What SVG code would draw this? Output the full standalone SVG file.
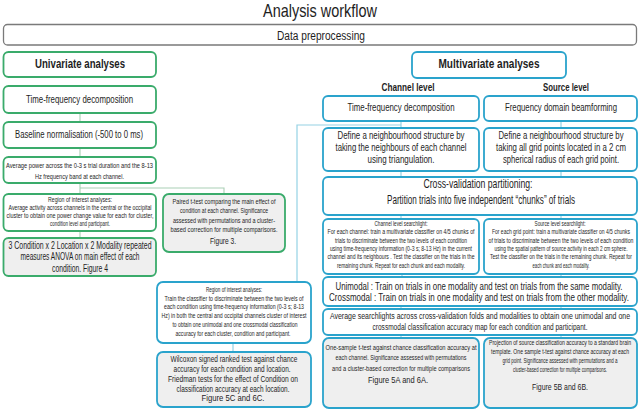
<svg xmlns="http://www.w3.org/2000/svg" width="640" height="412" viewBox="0 0 640 412">
<style>
text{font-family:"Liberation Sans",Arial,sans-serif;fill:#1e1e1e;text-anchor:middle}
.b{font-weight:bold}
.g{fill:#fff;stroke:#3aab6b;stroke-width:1.8}
.gg{fill:#efefef;stroke:#3aab6b;stroke-width:1.8}
.u{fill:#fff;stroke:#2aa3cc;stroke-width:1.8}
.ug{fill:#efefef;stroke:#2aa3cc;stroke-width:1.8}
.cg{stroke:#a9cfb5;stroke-width:1.1;fill:none}
.cb{stroke:#95d2e4;stroke-width:1.2;fill:none}
</style>
<rect width="640" height="412" fill="#fff"/>
<text x="320" y="17" font-size="19" textLength="114" lengthAdjust="spacingAndGlyphs">Analysis workflow</text>
<g id="preprocessing">
<rect x="3.5" y="24.5" width="633" height="20.5" rx="4" fill="#fff" stroke="#7a7a7a" stroke-width="1.3"/>
<text x="321" y="39.5" font-size="12.5" textLength="88" lengthAdjust="spacingAndGlyphs">Data preprocessing</text>
</g>
<g id="connectors">
<path class="cg" d="M80 113V122M80 148V157M80 183V194M80 188H224V194M80 231V238"/>
<path class="cb" d="M401 121V128M561 121V128M401 125H297V282M401 171V177M561 171V177M401 215V219M561 215V219M402 274V277M561 274V277M401 306V309M561 306V309M401 335V338M561 335V338M233 343V352"/>
</g>
<g id="univariate">
<rect class="g" x="3.5" y="52" width="152.5" height="25" rx="5"/>
<g transform="translate(80 0) scale(.7 1)">
<text class="b" x="0" y="68.5" font-size="12" textLength="128.6" lengthAdjust="spacingAndGlyphs">Univariate analyses</text>
</g>
</g>
<g id="uni-tf">
<rect class="g" x="3.5" y="86" width="152.5" height="27" rx="5"/>
<g transform="translate(79.5 0) scale(.7 1)">
<text x="0" y="103" font-size="10" textLength="152.9" lengthAdjust="spacingAndGlyphs">Time-frequency decomposition</text>
</g>
</g>
<g id="baseline">
<rect class="g" x="3.5" y="122" width="152.5" height="26" rx="5"/>
<g transform="translate(79 0) scale(.7 1)">
<text x="0" y="138.5" font-size="10.5" textLength="182.9" lengthAdjust="spacingAndGlyphs">Baseline normalisation (-500 to 0 ms)</text>
</g>
</g>
<g id="avg-power">
<rect class="g" x="3.5" y="157" width="152.5" height="26" rx="5"/>
<g transform="translate(79.5 0) scale(.7 1)">
<text x="0" y="168.5" font-size="8" textLength="210" lengthAdjust="spacingAndGlyphs">Average power across the 0-3 s trial duration and the 8-13</text>
<text x="0" y="179.5" font-size="8" textLength="127.1" lengthAdjust="spacingAndGlyphs">Hz frequency band at each channel.</text>
</g>
</g>
<g id="uni-roi">
<rect class="g" x="3.5" y="194" width="152.5" height="37" rx="5"/>
<g transform="translate(80 0) scale(.7 1)" font-size="6.6">
<text x="0" y="202" textLength="91.4" lengthAdjust="spacingAndGlyphs">Region of interest analyses:</text>
<text x="0" y="210" textLength="204.3" lengthAdjust="spacingAndGlyphs">Average activity across channels in the central or the occipital</text>
<text x="0" y="218" textLength="210" lengthAdjust="spacingAndGlyphs">cluster to obtain one power change value for each for cluster,</text>
<text x="0" y="226" textLength="85.7" lengthAdjust="spacingAndGlyphs">condition level and participant.</text>
</g>
</g>
<g id="anova">
<rect class="gg" x="3.5" y="238" width="152.5" height="38" rx="5"/>
<g transform="translate(80 0) scale(.7 1)" font-size="10.2">
<text x="0" y="249" textLength="204.3" lengthAdjust="spacingAndGlyphs">3 Condition x 2 Location x 2 Modality repeated</text>
<text x="0" y="260.5" textLength="170" lengthAdjust="spacingAndGlyphs">measures ANOVA on main effect of each</text>
<text x="0" y="272" textLength="80" lengthAdjust="spacingAndGlyphs">condition. Figure 4</text>
</g>
</g>
<g id="paired">
<rect class="gg" x="163" y="194" width="122" height="58" rx="6"/>
<g transform="translate(224 0) scale(.7 1)" font-size="7">
<text x="0" y="204" textLength="147.1" lengthAdjust="spacingAndGlyphs">Paired t-test comparing the main effect of</text>
<text x="0" y="213.5" textLength="125.7" lengthAdjust="spacingAndGlyphs">condition at each channel.  Significance</text>
<text x="0" y="223" textLength="145.7" lengthAdjust="spacingAndGlyphs">assessed with permutations and a cluster-</text>
<text x="0" y="232.5" textLength="152.9" lengthAdjust="spacingAndGlyphs">based correction for multiple comparisons.</text>
<text x="-1.4" y="244.5" font-size="8.6" textLength="37.1" lengthAdjust="spacingAndGlyphs">Figure 3.</text>
</g>
</g>
<g id="multivariate">
<rect class="u" x="412" y="52" width="154" height="26" rx="5"/>
<g transform="translate(489 0) scale(.7 1)">
<text class="b" x="0" y="68.5" font-size="12" textLength="144.3" lengthAdjust="spacingAndGlyphs">Multivariate analyses</text>
</g>
</g>
<g id="channel-level-label" transform="translate(408 0) scale(.7 1)">
<text class="b" x="0" y="91" font-size="10.5" textLength="75.7" lengthAdjust="spacingAndGlyphs">Channel level</text>
</g>
<g id="source-level-label" transform="translate(566 0) scale(.7 1)">
<text class="b" x="0" y="91" font-size="10.5" textLength="65.7" lengthAdjust="spacingAndGlyphs">Source level</text>
</g>
<g id="ch-tf">
<rect class="u" x="323" y="96" width="156" height="25" rx="5"/>
<g transform="translate(401 0) scale(.7 1)">
<text x="0" y="111.5" font-size="10" textLength="152.9" lengthAdjust="spacingAndGlyphs">Time-frequency decomposition</text>
</g>
</g>
<g id="src-beam">
<rect class="u" x="484" y="96" width="153" height="25" rx="5"/>
<g transform="translate(561 0) scale(.7 1)">
<text x="0" y="111.5" font-size="10" textLength="160" lengthAdjust="spacingAndGlyphs">Frequency domain beamforming</text>
</g>
</g>
<g id="ch-neigh">
<rect class="u" x="323" y="128" width="156" height="43" rx="5"/>
<g transform="translate(401 0) scale(.7 1)" font-size="10.5">
<text x="0" y="139" textLength="181.4" lengthAdjust="spacingAndGlyphs">Define a neighbourhood structure by</text>
<text x="0" y="151" textLength="187.1" lengthAdjust="spacingAndGlyphs">taking the neighbours of each channel</text>
<text x="0" y="163" textLength="95.7" lengthAdjust="spacingAndGlyphs">using triangulation.</text>
</g>
</g>
<g id="src-neigh">
<rect class="u" x="484" y="128" width="153" height="43" rx="5"/>
<g transform="translate(561 0) scale(.7 1)" font-size="10.5">
<text x="0" y="139" textLength="178.6" lengthAdjust="spacingAndGlyphs">Define a neighbourhood structure by</text>
<text x="0" y="151" textLength="185.7" lengthAdjust="spacingAndGlyphs">taking all grid points located in a 2 cm</text>
<text x="0" y="163" textLength="165.7" lengthAdjust="spacingAndGlyphs">spherical radius of each grid point.</text>
</g>
</g>
<g id="cross-val">
<rect class="u" x="323" y="177" width="314" height="38" rx="5"/>
<g transform="translate(480 0) scale(.7 1)" font-size="12">
<text x="-2.9" y="188.5" textLength="155.7" lengthAdjust="spacingAndGlyphs">Cross-validation partitioning:</text>
<text x="1.4" y="204.5" textLength="268.6" lengthAdjust="spacingAndGlyphs">Partition trials into five independent  “chunks” of trials</text>
</g>
</g>
<g id="ch-search">
<rect class="u" x="323" y="219" width="156" height="55" rx="5"/>
<g transform="translate(401 0) scale(.7 1)" font-size="7">
<text x="0" y="226.5" textLength="75.7" lengthAdjust="spacingAndGlyphs">Channel level searchlight:</text>
<text x="0" y="234.5" textLength="210" lengthAdjust="spacingAndGlyphs">For each channel: train a multivariate classifier on 4/5 chunks  of</text>
<text x="0" y="242.8" textLength="188.6" lengthAdjust="spacingAndGlyphs">trials to discriminate between the two levels of each condition</text>
<text x="0" y="251.1" textLength="202.9" lengthAdjust="spacingAndGlyphs">using time-frequency information (0-3 s; 8-13 Hz) in the current</text>
<text x="0" y="259.4" textLength="210" lengthAdjust="spacingAndGlyphs">channel and its neighbours .  Test the classifier on the trials in the</text>
<text x="0" y="267.7" textLength="182.9" lengthAdjust="spacingAndGlyphs">remaining chunk. Repeat for each chunk and each modality.</text>
</g>
</g>
<g id="src-search">
<rect class="u" x="484" y="219" width="153" height="55" rx="5"/>
<g transform="translate(561 0) scale(.7 1)" font-size="7">
<text x="-1.4" y="226.5" textLength="72.9" lengthAdjust="spacingAndGlyphs">Source level searchlight:</text>
<text x="0" y="234.5" textLength="197.1" lengthAdjust="spacingAndGlyphs">For each grid point: train a multivariate classifier  on 4/5 chunks</text>
<text x="0" y="242.8" textLength="207.1" lengthAdjust="spacingAndGlyphs">of trials to discriminate between the two levels of each condition</text>
<text x="0" y="251.1" textLength="190" lengthAdjust="spacingAndGlyphs">using the spatial pattern of source activity in each 2 cm sphere.</text>
<text x="0" y="259.4" textLength="202.9" lengthAdjust="spacingAndGlyphs">Test the classifier on the trials in the remaining chunk.  Repeat for</text>
<text x="0" y="267.7" textLength="81.4" lengthAdjust="spacingAndGlyphs">each chunk and each modality.</text>
</g>
</g>
<g id="modality">
<rect class="u" x="323" y="277" width="314" height="29" rx="5"/>
<g transform="translate(479 0) scale(.7 1)" font-size="10.2">
<text x="0" y="290" textLength="410" lengthAdjust="spacingAndGlyphs">Unimodal : Train on trials in one modality and test on trials from the same modality.</text>
<text x="0" y="301.5" textLength="428.6" lengthAdjust="spacingAndGlyphs">Crossmodal : Train on trials in one modality and test on trials from the other modality.</text>
</g>
</g>
<g id="average-search">
<rect class="u" x="323" y="309" width="314" height="26" rx="5"/>
<g transform="translate(480 0) scale(.7 1)" font-size="9.8">
<text x="0" y="319" textLength="428.6" lengthAdjust="spacingAndGlyphs">Average searchlights across cross-validation folds and modalities to obtain one unimodal and one</text>
<text x="0" y="330" textLength="307.1" lengthAdjust="spacingAndGlyphs">crossmodal classification accuracy map for each condition and participant.</text>
</g>
</g>
<g id="ch-result">
<rect class="ug" x="323" y="338" width="156" height="70" rx="6"/>
<g transform="translate(401 0) scale(.7 1)" font-size="7.6">
<text x="0" y="350" textLength="215.7" lengthAdjust="spacingAndGlyphs">One-sample t-test against chance classification accuracy at</text>
<text x="0" y="360.5" textLength="187.1" lengthAdjust="spacingAndGlyphs">each channel.  Significance assessed with permutations</text>
<text x="0" y="371" textLength="197.1" lengthAdjust="spacingAndGlyphs">and a cluster-based correction for multiple comparisons</text>
<text x="-4.3" y="383" font-size="9.5" textLength="85.7" lengthAdjust="spacingAndGlyphs">Figure 5A and 6A.</text>
</g>
</g>
<g id="src-result">
<rect class="ug" x="484" y="338" width="153" height="70" rx="6"/>
<g transform="translate(560 0) scale(.7 1)" font-size="7">
<text x="0" y="345.5" textLength="202.9" lengthAdjust="spacingAndGlyphs">Projection of source classification accuracy to a standard brain</text>
<text x="0" y="354.5" textLength="197.1" lengthAdjust="spacingAndGlyphs">template. One sample t-test against chance accuracy at each</text>
<text x="0" y="363.5" textLength="164.3" lengthAdjust="spacingAndGlyphs">grid point. Significance  assessed with permutations and a</text>
<text x="0" y="372.5" textLength="134.3" lengthAdjust="spacingAndGlyphs">cluster-based correction for multiple comparisons.</text>
<text x="0" y="390" font-size="9.5" textLength="80" lengthAdjust="spacingAndGlyphs">Figure 5B and 6B.</text>
</g>
</g>
<g id="ch-roi">
<rect class="u" x="157" y="282" width="154" height="61" rx="6"/>
<g transform="translate(234 0) scale(.7 1)" font-size="7">
<text x="0" y="292" textLength="80" lengthAdjust="spacingAndGlyphs">Region of interest analyses:</text>
<text x="0" y="301" textLength="198.6" lengthAdjust="spacingAndGlyphs">Train the classifier to discriminate between the two levels of</text>
<text x="0" y="309.5" textLength="200" lengthAdjust="spacingAndGlyphs">each condition using time-frequency information (0-3 s; 8-13</text>
<text x="0" y="318" textLength="207.1" lengthAdjust="spacingAndGlyphs">Hz) in both the central and occipital channels cluster of interest</text>
<text x="1.4" y="327" textLength="178.6" lengthAdjust="spacingAndGlyphs">to obtain one unimodal and one crossmodal classification</text>
<text x="-1.4" y="336" textLength="164.3" lengthAdjust="spacingAndGlyphs">accuracy for each cluster, condition and participant.</text>
</g>
</g>
<g id="wilcoxon">
<rect class="ug" x="157" y="352" width="154" height="55" rx="6"/>
<g transform="translate(233 0) scale(.7 1)" font-size="8.9">
<text x="1.4" y="362" textLength="181.4" lengthAdjust="spacingAndGlyphs">Wilcoxon signed ranked test against chance</text>
<text x="-1.4" y="372" textLength="167.1" lengthAdjust="spacingAndGlyphs">accuracy for each condition and location.</text>
<text x="0" y="382" textLength="185.7" lengthAdjust="spacingAndGlyphs">Friedman tests for the effect of Condition on</text>
<text x="0" y="392" textLength="161.4" lengthAdjust="spacingAndGlyphs">classification accuracy at each location.</text>
<text x="0" y="401.5" textLength="90" lengthAdjust="spacingAndGlyphs">Figure 5C and 6C.</text>
</g>
</g>
</svg>
